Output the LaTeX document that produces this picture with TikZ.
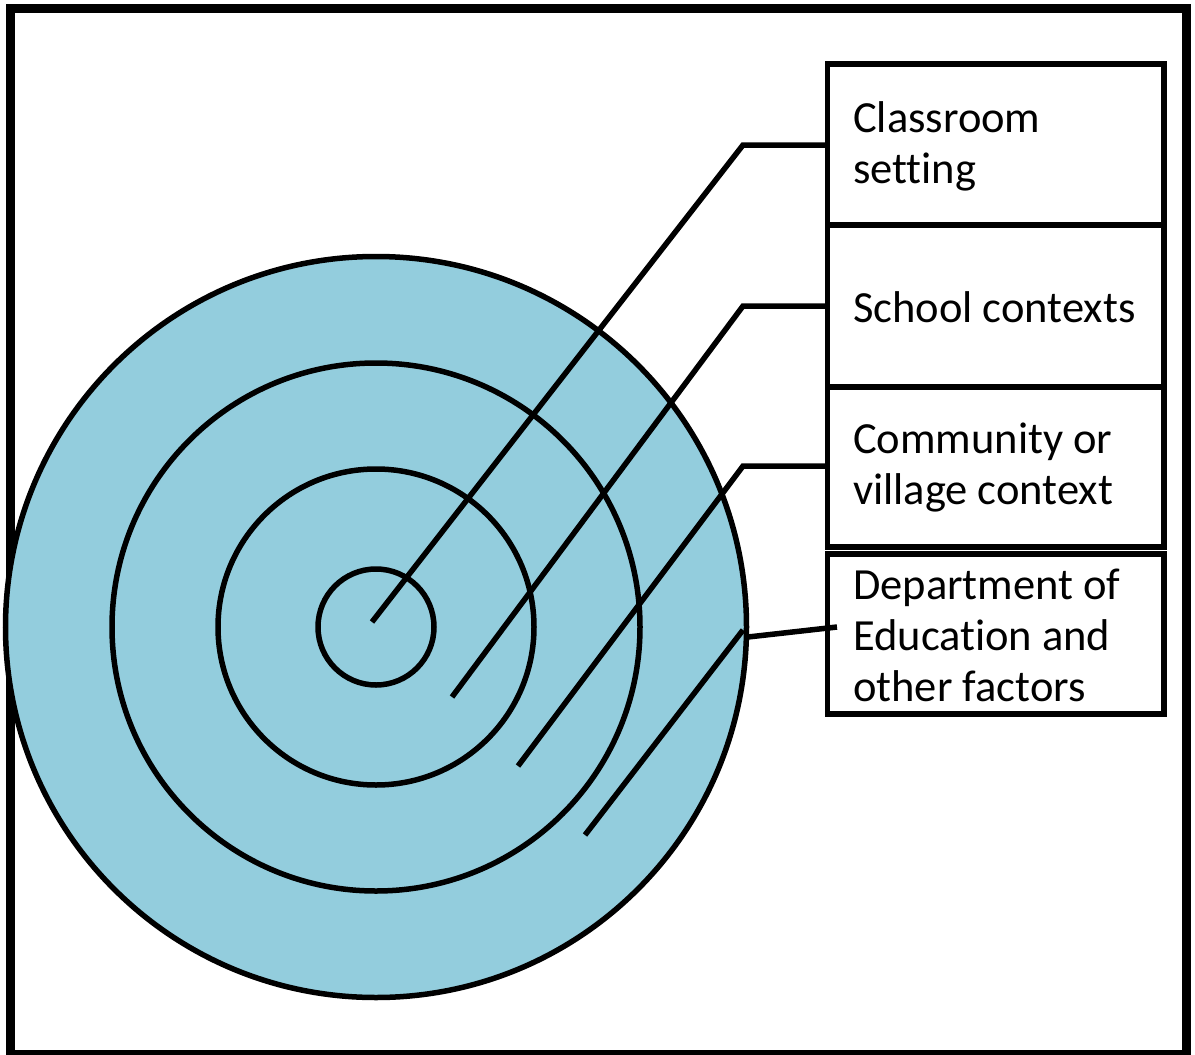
\documentclass[tikz,border=0pt]{standalone}
\usepackage{fontspec}
\setmainfont{Carlito}[Ligatures=NoCommon]
\definecolor{ringblue}{RGB}{147,205,221}
\begin{document}
\begin{tikzpicture}[x=1pt,y=-1pt,
  ring/.style={circle,draw=black,line width=5.5pt,fill=ringblue,inner sep=0pt,outer sep=0pt},
  catbox/.style={rectangle,draw=black,line width=5.5pt,fill=white,minimum width=336.5pt,inner sep=0pt,outer sep=0pt,anchor=north west},
  catlabel/.style={anchor=west,inner sep=0pt,align=left,font=\fontsize{44.5}{51}\selectfont},
  link/.style={line width=5.5pt}
]
\useasboundingbox (0,0) rectangle (1195,1055);
\fill[white] (0,0) rectangle (1195,1055);
\draw[line width=9pt] (10.5,8.5) rectangle (1186.5,1054.5);

% rings
\node[ring,minimum size=741pt] (r4) at (376,627) {};
\node[ring,minimum size=528pt] (r3) at (376,627) {};
\node[ring,minimum size=316pt] (r2) at (376,627) {};
\node[ring,minimum size=116pt] (r1) at (376,627) {};

% boxes
\node[catbox,minimum height=161pt] (box1) at (827.5,64) {};
\node[catbox,minimum height=162pt] (box2) at (827.5,225) {};
\node[catbox,minimum height=160pt] (box3) at (827.5,387) {};
\node[catbox,minimum height=160pt] (box4) at (827.5,554) {};

% labels
\node[catlabel] (lab1) at (853,146.5) {Classroom\\setting};
\node[catlabel] (lab2) at (853,307) {School contexts};
\node[catlabel] (lab3) at (853,468) {Community or\\village context};
\node[catlabel] (lab4) at (853,635) {Department of\\Education and\\other factors};

% connectors
\coordinate (e1) at (372,622);
\coordinate (k1) at (743,145);
\coordinate (e2) at (452,697);
\coordinate (k2) at (743,306);
\coordinate (e3) at (518,766);
\coordinate (k3) at (743,466);
\coordinate (e4) at (585,835);
\coordinate (k4) at (743,630);
\coordinate (s4) at (748,637);
\coordinate (t4) at (837,627);

\draw[link] (e1) -- (k1) -- (k1 -| box1.west);
\draw[link] (e2) -- (k2) -- (k2 -| box2.west);
\draw[link] (e3) -- (k3) -- (k3 -| box3.west);
\draw[link] (e4) -- (k4);
\draw[link] (s4) -- (t4);
\end{tikzpicture}
\end{document}
